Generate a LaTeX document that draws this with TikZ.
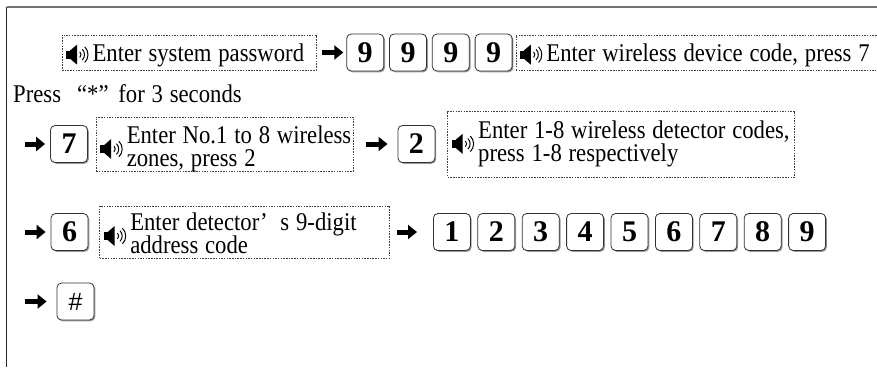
\documentclass[tikz,border=0pt]{standalone}
\usepackage{fontspec}
\setmainfont{Liberation Serif}
\newfontfamily\consigne[FakeStretch=0.89, WordSpace=1.2]{Liberation Serif}
\newfontfamily\touchefont{Liberation Sans}
\usepackage{tikz}
\usetikzlibrary{positioning, shadows, arrows.meta}

\newcommand{\hautparleur}{\tikz[baseline=-0.25em, x=1pt, y=1pt, black, solid, line width=1pt]{%
    \fill (0,-4) rectangle (4,4);
    \fill (4,4) -- (11,10) -- (11,-10) -- (4,-4) -- cycle;
    \foreach \r in {4,7.5,11}
        \draw (11,0) ++(-45:\r) arc[start angle=-45, end angle=45, radius=\r];
}\hspace{3pt}}

\tikzset{
    touche/.style={draw=black!80, line width=0.8pt, rounded corners=4.5pt, fill=white,
        minimum width=37pt, minimum height=37pt, inner sep=0pt,
        drop shadow={shadow xshift=1.3pt, shadow yshift=-1.3pt, fill=black!40, opacity=1},
        font=\fontsize{30}{30}\selectfont\bfseries},
    message/.style={draw=black!75, line width=0.6pt, dash pattern=on 1.5pt off 1.2pt,
        inner xsep=4pt, inner ysep=0pt, font=\consigne\fontsize{25.5}{20}\selectfont},
    fleche/.style={-{Triangle[length=9pt, width=14pt]}, line width=5pt},
}

\begin{document}
\begin{tikzpicture}[x=1pt, y=-1pt]
    \useasboundingbox (0,0) rectangle (877,367);

    % Cadre
    \draw[black!55, line width=2pt] (877,6.5) -- (6.5,6.5);
    \draw[black!85, line width=1.2pt] (6.5,6.5) -- (6.5,367);

    % Ligne 1
    \node[message, minimum height=35pt, text height=22pt, text depth=5pt] (mdp) at (189,52.5) {\makebox[246pt][l]{\hautparleur Enter system password}};
    \node[touche, right=30pt of mdp] (neuf1) {9};
    \foreach \i [remember=\i as \j (initially 1)] in {2,3,4}
        \node[touche, right=5pt of neuf\j] (neuf\i) {9};
    \node[message, minimum height=35pt, text height=22pt, text depth=5pt, right=3pt of neuf4] (code) {\makebox[356pt][l]{\hautparleur Enter wireless device code, press 7}};

    % Ligne 2
    \node[anchor=base west, inner sep=0pt, font=\consigne\fontsize{25.5}{20}\selectfont] (appui) at (13,102) {Press\hspace{16pt}“*”\hspace{3pt} for 3 seconds};

    % Ligne 3
    \coordinate (depart3) at (25,144);
    \node[touche] (sept) at (69,144) {7};
    \node[message, minimum height=54pt, text height=36.4pt, text depth=13.6pt, right=8pt of sept] (zones) {\makebox[249pt][l]{\hautparleur\begin{tabular}{@{}l@{}}Enter No.1 to 8 wireless\\zones, press 2\end{tabular}}};
    \node[touche, right=44pt of zones] (deux) {2};
    \node[message, minimum height=66pt, right=12pt of deux] (detect) {\makebox[339pt][l]{\hautparleur\begin{tabular}{@{}l@{}}Enter 1-8 wireless detector codes,\\press 1-8 respectively\end{tabular}}};

    % Ligne 4
    \coordinate (depart4) at (25,232);
    \node[touche] (six) at (69.5,232) {6};
    \node[message, minimum height=52pt, text height=34.4pt, text depth=13.6pt, right=11pt of six] (adresse) {\makebox[282pt][l]{\hautparleur\begin{tabular}{@{}l@{}}Enter detector’\hspace{0.5em}s 9-digit\\address code\end{tabular}}};
    \node[touche, right=43pt of adresse] (chiffre1) {1};
    \foreach \i [remember=\i as \j (initially 1)] in {2,...,9}
        \node[touche, right=6.6pt of chiffre\j] (chiffre\i) {\i};

    % Ligne 5
    \coordinate (depart5) at (25,301.5);
    \node[touche, font=\touchefont\fontsize{25}{25}\selectfont] (diese) at (75.5,301.5) {\#};

    % Flèches
    \draw[fleche, shorten <=6pt, shorten >=3pt] (mdp) -- (neuf1);
    \draw[fleche, shorten >=5pt] (depart3) -- (sept);
    \draw[fleche, shorten <=12pt, shorten >=10pt] (zones) -- (deux);
    \draw[fleche, shorten >=5pt] (depart4) -- (six);
    \draw[fleche, shorten <=7pt, shorten >=16pt] (adresse) -- (chiffre1);
    \draw[fleche, shorten >=10pt] (depart5) -- (diese);

\end{tikzpicture}
\end{document}
